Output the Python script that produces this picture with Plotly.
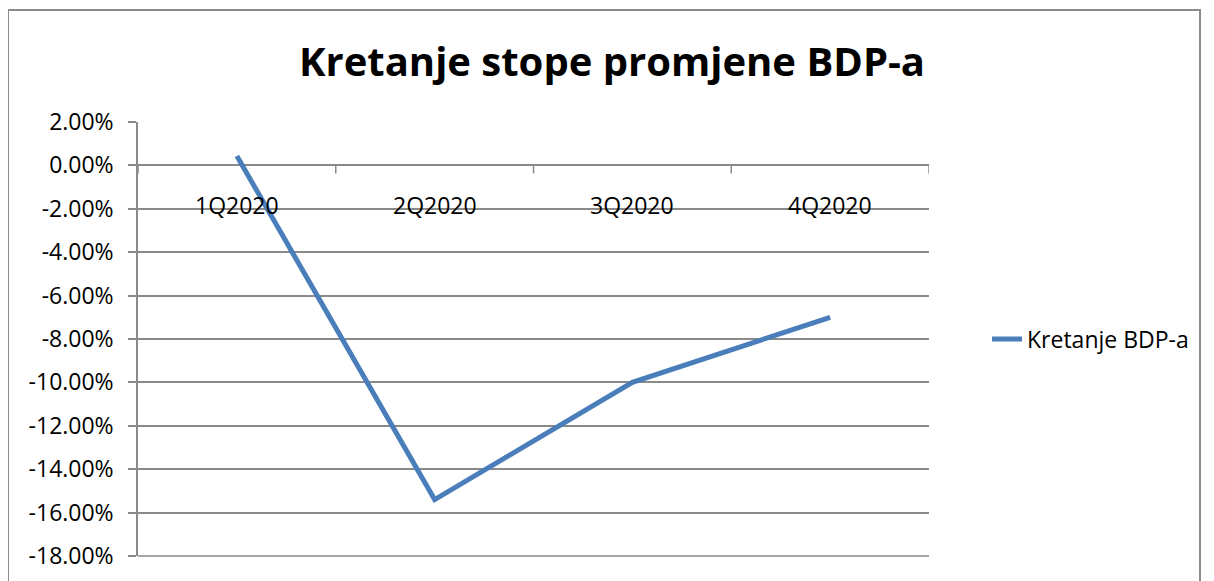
import plotly.graph_objects as go

categories = ["1Q2020", "2Q2020", "3Q2020", "4Q2020"]
values = [0.0043, -0.154, -0.100, -0.070]
y_tick_values = [0.02, 0.0, -0.02, -0.04, -0.06, -0.08, -0.10, -0.12, -0.14, -0.16, -0.18]
y_tick_labels = ["2.00%", "0.00%", "-2.00%", "-4.00%", "-6.00%", "-8.00%",
                 "-10.00%", "-12.00%", "-14.00%", "-16.00%", "-18.00%"]
series_name = "Kretanje BDP-a"
title_text = "Kretanje stope promjene BDP-a"

OFF = 8
W, H = 1214 - OFF, 581 - OFF
L = 138 - OFF
T = 122 - OFF
R = W - (929 - OFF)
B = H - (556 - OFF)
pw, ph = W - L - R, H - T - B

FONT = "Open Sans"
GRID = "#8a8a8a"
BLUE = "#4A7EBB"

x_pos = list(range(len(categories)))

fig = go.Figure()
fig.add_trace(go.Scatter(
    x=x_pos, y=values, mode="lines", name=series_name,
    line=dict(color=BLUE, width=5),
))

fig.update_layout(
    width=W, height=H,
    margin=dict(l=L, r=R, t=T, b=B, autoexpand=False),
    paper_bgcolor="white", plot_bgcolor="white",
    font=dict(family=FONT, size=23, color="black"),
    title=dict(text=f"<b>{title_text}</b>", x=(612 - OFF) / W, xref="container", xanchor="center",
               y=1 - (62 - OFF) / H, yref="container", yanchor="middle",
               font=dict(family=FONT, size=40, color="black")),
    showlegend=True,
    legend=dict(x=(1028 - OFF - 41 - L) / pw, y=(548 - (339 - OFF)) / ph,
                xanchor="left", yanchor="middle",
                font=dict(family=FONT, size=23), bgcolor="rgba(0,0,0,0)"),
    xaxis=dict(range=[-0.5, len(categories) - 0.5], visible=False),
    yaxis=dict(
        range=[-0.18, 0.02], tickmode="array",
        tickvals=y_tick_values, ticktext=y_tick_labels,
        showline=True, linecolor=GRID, linewidth=1.5,
        ticks="outside", ticklen=8, tickcolor=GRID, tickwidth=1.5,
        showgrid=True, gridcolor=GRID, gridwidth=1.5,
        zeroline=True, zerolinecolor=GRID, zerolinewidth=1.5,
        layer="below traces",
        tickfont=dict(family=FONT, size=23),
        ticklabelstandoff=10,
    ),
)

# category tick marks at the boundaries, hanging below the 0% line
for i in range(len(categories) + 1):
    fig.add_shape(type="line", xref="x", yref="y", ysizemode="pixel", yanchor=0,
                  x0=i - 0.5, x1=i - 0.5, y0=0, y1=-8,
                  line=dict(color=GRID, width=1.5), layer="below")

# category labels below the 0% line
for i, cat in enumerate(categories):
    fig.add_annotation(x=x_pos[i], y=0, xref="x", yref="y", text=cat, showarrow=False,
                       yanchor="top", yshift=-22, font=dict(family=FONT, size=23, color="black"))

# bottom gridline of the plot area
fig.add_shape(type="line", xref="paper", yref="paper", x0=0, x1=1, y0=0, y1=0,
              line=dict(color=GRID, width=1.5), layer="below")

# outer chart frame
fig.add_shape(type="rect", xref="paper", yref="paper",
              x0=(8 - OFF - L) / pw, x1=(1200 - OFF - L) / pw,
              y0=(548 - 700) / ph, y1=(548 - (10 - OFF)) / ph,
              line=dict(color="#8c8c8c", width=2), fillcolor="rgba(0,0,0,0)", layer="below")

fig.write_html("out.html")
